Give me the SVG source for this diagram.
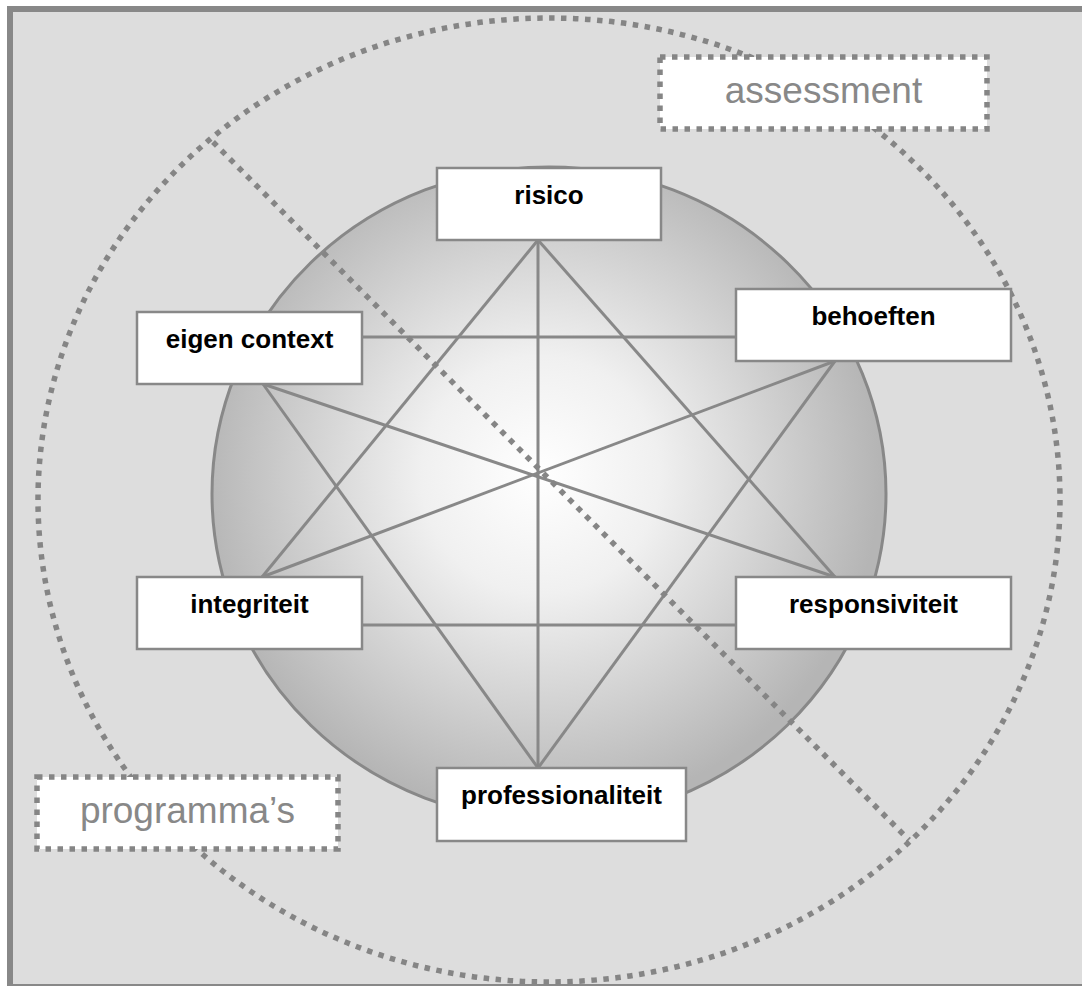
<svg xmlns="http://www.w3.org/2000/svg" width="1082" height="986" viewBox="0 0 1082 986">
  <defs>
    <radialGradient id="shade" cx="540" cy="475" r="340" gradientUnits="userSpaceOnUse">
      <stop offset="0" stop-color="#ffffff"/>
      <stop offset="0.35" stop-color="#f0f0f0"/>
      <stop offset="1" stop-color="#b5b5b5"/>
    </radialGradient>
  </defs>
  <style>
    .dots { fill: none; stroke: #858585; stroke-width: 5.5; stroke-dasharray: 5.5 6.5; }
    .dotbox { fill: #ffffff; stroke: #858585; stroke-width: 5.5; stroke-dasharray: 5.5 6.5; }
    .link { stroke: #888888; stroke-width: 3; fill: none; }
    .box { fill: #ffffff; stroke: #888888; stroke-width: 2.5; }
    .lbl { font-family: "Liberation Sans", Arial, sans-serif; font-weight: bold; font-size: 26px; fill: #000000; text-anchor: middle; }
    .big { font-family: "Liberation Sans", Arial, sans-serif; font-size: 37px; fill: #888888; text-anchor: middle; }
  </style>
  <rect x="0" y="0" width="1082" height="986" fill="#ffffff"/>
  <rect id="frame" x="10" y="9" width="1100" height="978" fill="#dddddd" stroke="#888888" stroke-width="6"/>

  <ellipse id="outer-ring" class="dots" cx="549" cy="500" rx="511" ry="482"/>
  <ellipse id="inner-disc" cx="549" cy="494" rx="337" ry="327" fill="url(#shade)" stroke="#888888" stroke-width="3"/>

  <g id="connectors">
    <line class="link" x1="538" y1="240" x2="538" y2="768"/>
    <line class="link" x1="538" y1="240" x2="262" y2="577"/>
    <line class="link" x1="538" y1="240" x2="835" y2="577"/>
    <line class="link" x1="538" y1="768" x2="263" y2="384"/>
    <line class="link" x1="538" y1="768" x2="835" y2="361"/>
    <line class="link" x1="362" y1="337" x2="736" y2="337"/>
    <line class="link" x1="362" y1="625" x2="736" y2="625"/>
    <line class="link" x1="263" y1="384" x2="835" y2="577"/>
    <line class="link" x1="835" y1="361" x2="262" y2="577"/>
    <line class="dots" x1="213" y1="142" x2="909" y2="840"/>
  </g>

  <g id="risico">
    <rect class="box" x="437" y="168" width="224" height="72"/>
    <text class="lbl" x="549" y="204">risico</text>
  </g>
  <g id="eigen-context">
    <rect class="box" x="137" y="312" width="225" height="72"/>
    <text class="lbl" x="249.5" y="348">eigen context</text>
  </g>
  <g id="behoeften">
    <rect class="box" x="736" y="289" width="275" height="72"/>
    <text class="lbl" x="873.5" y="325">behoeften</text>
  </g>
  <g id="integriteit">
    <rect class="box" x="137" y="577" width="225" height="72"/>
    <text class="lbl" x="249.5" y="613">integriteit</text>
  </g>
  <g id="responsiviteit">
    <rect class="box" x="736" y="577" width="275" height="72"/>
    <text class="lbl" x="873.5" y="613">responsiviteit</text>
  </g>
  <g id="professionaliteit">
    <rect class="box" x="437" y="768" width="249" height="73"/>
    <text class="lbl" x="561.5" y="804">professionaliteit</text>
  </g>

  <g id="assessment">
    <rect class="dotbox" x="660" y="57" width="327" height="72"/>
    <text class="big" x="823.5" y="103">assessment</text>
  </g>
  <g id="programmas">
    <rect class="dotbox" x="37" y="777" width="301" height="72"/>
    <text class="big" x="187.5" y="823">programma’s</text>
  </g>
</svg>
